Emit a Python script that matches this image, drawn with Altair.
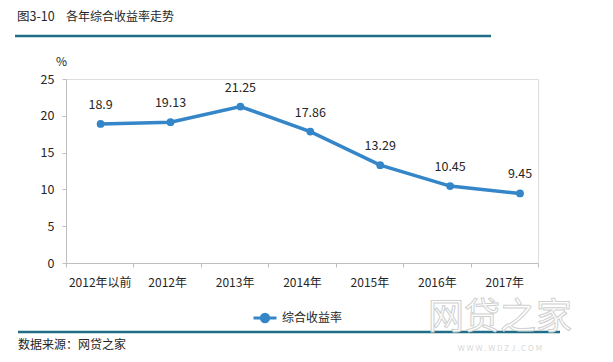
import altair as alt
import pandas as pd

categories = ["2012年以前", "2012年", "2013年", "2014年", "2015年", "2016年", "2017年"]
values = [18.9, 19.13, 21.25, 17.86, 13.29, 10.45, 9.45]
labels = ["18.9", "19.13", "21.25", "17.86", "13.29", "10.45", "9.45"]
series_name = "综合收益率"
y_ticks = [0, 5, 10, 15, 20, 25]

df = pd.DataFrame({"cat": categories, "val": values, "lab": labels, "series": series_name})

FONT = "Noto Sans CJK SC"
LINE_COLOR = "#3486c8"
TEXT_COLOR = "#262626"
AXIS_COLOR = "#bfbfbf"
TEAL = "#1f6d86"

W, H = 472, 184

base = alt.Chart(df)

# axis layer (band scale, ticks at band edges)
axis_layer = base.mark_point(opacity=0).encode(
    x=alt.X("cat:N", sort=categories,
            scale=alt.Scale(type="band", paddingInner=0, paddingOuter=0),
            axis=alt.Axis(title=None, labelAngle=0, tickBand="extent", domainColor=AXIS_COLOR,
                          tickColor=AXIS_COLOR, tickSize=4, labelPadding=10, labelFontSize=12,
                          labelColor=TEXT_COLOR, labelFont=FONT, grid=False)),
    y=alt.value(0),
)

xpt = alt.X("cat:N", sort=categories,
            scale=alt.Scale(type="point", padding=0.376, align=0.658), axis=None)
yq = alt.Y("val:Q", scale=alt.Scale(domain=[0, 25], nice=False),
           axis=alt.Axis(values=y_ticks, grid=False, domainColor=AXIS_COLOR, tickColor=AXIS_COLOR,
                         tickSize=4, labelPadding=8, labelFontSize=12.5, labelColor=TEXT_COLOR,
                         labelOverlap=False, labelFont=FONT, title="%", titleAngle=0, titleX=-5,
                         titleY=-18, titleAlign="center", titleBaseline="middle",
                         titleFontWeight="normal", titleFontSize=12, titleColor=TEXT_COLOR,
                         titleFont=FONT))

line = base.mark_line(strokeWidth=3.5).encode(
    x=xpt, y=yq,
    color=alt.Color("series:N", scale=alt.Scale(range=[LINE_COLOR]),
                    legend=alt.Legend(title=None, orient="none", legendX=186, legendY=226,
                                      symbolType="M-1,0L1,0M0.32,0A0.32,0.32 0 1,1 -0.32,0A0.32,0.32 0 1,1 0.32,0Z",
                                      symbolSize=529, symbolStrokeWidth=3, symbolFillColor=LINE_COLOR,
                                      symbolStrokeColor=LINE_COLOR, labelFontSize=12,
                                      labelFont=FONT, labelColor=TEXT_COLOR, labelOffset=4)),
)
points = base.mark_circle(size=60, opacity=1, color=LINE_COLOR).encode(x=xpt, y=yq)
texts = base.mark_text(dy=-19, fontSize=12.5, font=FONT, color=TEXT_COLOR, baseline="middle").encode(
    x=xpt, y=yq, text="lab:N")

data_layer = alt.layer(line, points, texts)

deco_df = pd.DataFrame({"k": [0]})
deco = alt.Chart(deco_df)
title1 = deco.mark_text(align="left", baseline="middle", fontSize=12.5, font=FONT, color=TEXT_COLOR).encode(
    x=alt.value(-49), y=alt.value(-62), text=alt.value("图3-10"))
title2 = deco.mark_text(align="left", baseline="middle", fontSize=12, font=FONT, color=TEXT_COLOR).encode(
    x=alt.value(0), y=alt.value(-62), text=alt.value("各年综合收益率走势"))
top_rule = deco.mark_rule(color=TEAL, strokeWidth=2.5).encode(
    x=alt.value(-51), x2=alt.value(425), y=alt.value(-43))
bottom_rule = deco.mark_rule(color=TEAL, strokeWidth=2.5).encode(
    x=alt.value(-48), x2=alt.value(494), y=alt.value(253))
footer = deco.mark_text(align="left", baseline="middle", fontSize=12, font=FONT, color=TEXT_COLOR).encode(
    x=alt.value(-48), y=alt.value(266), text=alt.value("数据来源：网贷之家"))
wm1 = deco.mark_text(align="center", baseline="middle", fontSize=36, font=FONT, fill="white",
                     fillOpacity=0.85, stroke="#d0d0d0", strokeWidth=1).encode(
    x=alt.value(434), y=alt.value(239), text=alt.value("网贷之家"))
wm2 = deco.mark_text(align="center", baseline="middle", fontSize=8, font=FONT, color="#d8d8d8").encode(
    x=alt.value(434), y=alt.value(270), text=alt.value("W W W .  W D Z J .  C O M"))

chart = alt.layer(axis_layer, data_layer, title1, title2, top_rule, bottom_rule, footer, wm1, wm2).resolve_scale(
    x="independent"
).properties(
    width=W, height=H,
    autosize=alt.AutoSizeParams(type="none"),
    padding={"left": 58, "top": 71, "right": 67, "bottom": 91},
).configure_view(stroke=None).configure(background="white")

chart.save("out.html", embed_options={"renderer": "svg", "actions": False})
